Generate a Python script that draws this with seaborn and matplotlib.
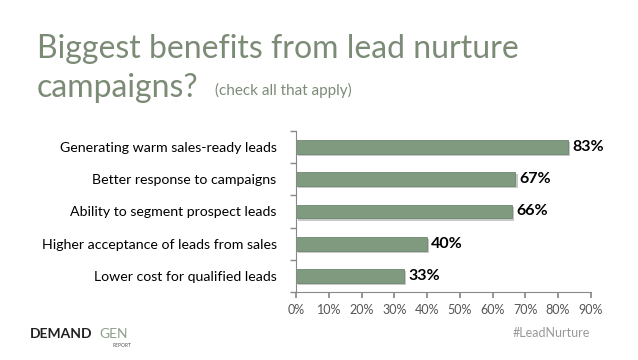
import pandas as pd
import numpy as np
import matplotlib
matplotlib.use("Agg")
import matplotlib.pyplot as plt
import matplotlib.patheffects as pe
import seaborn as sns

# data
benefits = ["Generating warm sales-ready leads",
            "Better response to campaigns",
            "Ability to segment prospect leads",
            "Higher acceptance of leads from sales",
            "Lower cost for qualified leads"]
shares = [83, 67, 66, 40, 33]
ticks = [0, 10, 20, 30, 40, 50, 60, 70, 80, 90]

df = pd.DataFrame({"benefit": benefits, "share": shares})

sns.set_theme(style="white")
plt.rcParams["font.family"] = ["Lato", "DejaVu Sans"]

fig = plt.figure(figsize=(6.38, 3.6), dpi=100)
ax = fig.add_axes([0.464, 0.189, 0.462, 0.447])

bar_col = "#7f9a7f"
sns.barplot(data=df, x="share", y="benefit", color=bar_col, width=0.43,
            saturation=1, edgecolor="#6d876d", linewidth=0.6, ax=ax)
for p in ax.patches:
    p.set_path_effects([pe.SimplePatchShadow(offset=(1.5, -1.5), shadow_rgbFace="#bbbbbb", alpha=0.8),
                        pe.Normal()])

for i, v in enumerate(shares):
    ax.text(v + 1.3, i, f"{v}%", va="center", ha="left",
            fontsize=11.5, fontweight="bold", color="black")

ax.set_xlim(0, 90)
ax.set_ylim(4.5, -0.5)
ax.set_xticks(ticks)
ax.set_xticklabels([f"{t}%" for t in ticks], fontsize=9, color="#555555")
ax.set_yticks(range(len(benefits)))
ax.set_yticklabels(benefits, fontsize=10.2, color="black")
ax.set_xlabel("")
ax.set_ylabel("")

for s in ["top", "right"]:
    ax.spines[s].set_visible(False)
for s in ["left", "bottom"]:
    ax.spines[s].set_color("#888888")
    ax.spines[s].set_linewidth(0.8)

# tick marks between categories on the y axis, under each label on x
ax.tick_params(axis="x", bottom=True, length=4, color="#888888", pad=5)
ax.tick_params(axis="y", left=False, pad=8)
ax.set_yticks(np.arange(-0.5, 5, 1), minor=True)
ax.tick_params(axis="y", which="minor", left=True, length=4, color="#888888")

# title text
fig.text(0.058, 0.84, "Biggest benefits from lead nurture", fontsize=23,
         color="#7b8b76")
fig.text(0.058, 0.73, "campaigns?", fontsize=23, color="#7b8b76")
fig.text(0.337, 0.735, "(check all that apply)", fontsize=11, color="#7b8b76")

# footer
fig.text(0.047, 0.06, "DEMAND", fontsize=10, fontweight="bold", color="#222222")
fig.text(0.155, 0.06, "GEN", fontsize=10, color="#8da08a")
fig.text(0.177, 0.035, "REPORT", fontsize=3.5, color="#555555")
fig.text(0.925, 0.065, "#LeadNurture", fontsize=9, color="#999999", ha="right")

fig.savefig("out.png", dpi=100)
